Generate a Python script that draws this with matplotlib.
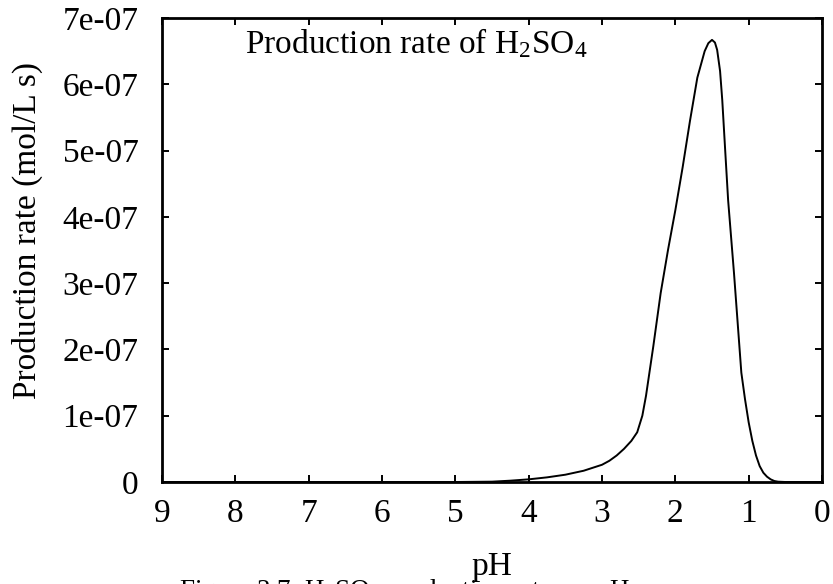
import matplotlib.pyplot as plt

# values (rate in units of 1e-07 mol/L s)
ph = [9.0, 5.0, 4.5, 4.25, 4.0, 3.75, 3.5, 3.25, 3.0, 2.9, 2.8, 2.7, 2.6, 2.52,
      2.45, 2.4, 2.3, 2.2, 2.1, 2.0, 1.9, 1.8, 1.7, 1.6, 1.55, 1.5, 1.46, 1.43,
      1.39, 1.36, 1.32, 1.28, 1.24, 1.2, 1.15, 1.1, 1.05, 1.0, 0.95, 0.9, 0.85,
      0.8, 0.75, 0.7, 0.65, 0.6, 0.5, 0.0]
rate = [0.0, 0.0, 0.005, 0.02, 0.04, 0.07, 0.11, 0.17, 0.26, 0.32, 0.40, 0.50,
        0.62, 0.75, 1.0, 1.3, 2.05, 2.85, 3.5, 4.1, 4.75, 5.45, 6.1, 6.5, 6.62,
        6.67, 6.63, 6.52, 6.2, 5.76, 5.0, 4.25, 3.7, 3.15, 2.4, 1.65, 1.25, 0.9,
        0.62, 0.4, 0.24, 0.14, 0.08, 0.04, 0.015, 0.005, 0.0, 0.0]
rate = [r * 1e-07 for r in rate]

xticks = [9, 8, 7, 6, 5, 4, 3, 2, 1, 0]
yticks = [i * 1e-07 for i in range(8)]
ytick_labels = ['0', '1e-07', '2e-07', '3e-07', '4e-07', '5e-07', '6e-07', '7e-07']

plt.rcParams['font.family'] = ['Liberation Serif', 'DejaVu Serif']
plt.rcParams['mathtext.fontset'] = 'custom'
plt.rcParams['mathtext.rm'] = 'Liberation Serif'
plt.rcParams['mathtext.it'] = 'Liberation Serif:italic'

fig = plt.figure(figsize=(8.33, 5.84), dpi=100)
ax = fig.add_axes([162 / 833, 1 - 482 / 584, 660 / 833, 464 / 584])

ax.plot(ph, rate, color='black', linewidth=1.4)

ax.set_xlim(9, 0)
ax.set_ylim(0, 7e-07)
ax.set_xticks(xticks)
ax.set_xticklabels([str(t) for t in xticks])
ax.set_yticks(yticks)
ax.set_yticklabels(ytick_labels)
ax.tick_params(direction='in', length=5, width=1.4, labelsize=24,
               top=True, right=True)
ax.tick_params(axis='x', pad=12)
ax.tick_params(axis='y', pad=17)
for s in ax.spines.values():
    s.set_linewidth(2)

ax.set_xlabel('pH', fontsize=24)
ax.xaxis.label.set_va('baseline')
ax.xaxis.set_label_coords(0.5, -0.2004)
ax.set_ylabel('Production rate (mol/L s)', fontsize=24)
ax.yaxis.label.set_va('center')
ax.yaxis.set_label_coords(-0.2045, 0.541)

ax.text(0.1258, 0.9246, r'Production rate of H$_2$SO$_4$', transform=ax.transAxes,
        fontsize=24, ha='left', va='baseline')

# figure caption, cut off at the bottom edge like in the reference
fig.text(0.486, -0.024, r'Figure 3.7: H$_2$SO$_4$ production rate vs. pH',
         fontsize=19.5, ha='center', va='baseline')

fig.savefig('out.png', dpi=100)
